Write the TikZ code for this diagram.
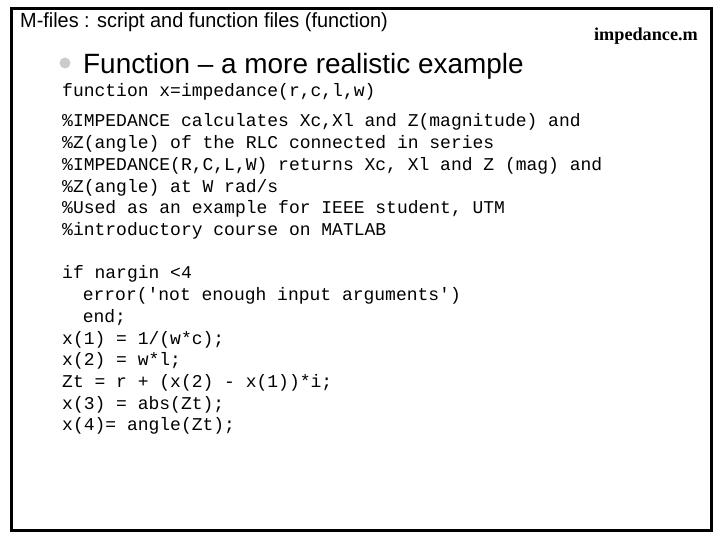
\documentclass[tikz,border=0pt]{standalone}
\usepackage{fontspec}
\setmainfont{Liberation Sans}
\setmonofont{Liberation Mono}
\newfontfamily\serifbold{Liberation Serif}
\usetikzlibrary{positioning}

\begin{document}
\begin{tikzpicture}[
    x=1pt,
    y=-1pt,
    code/.style={
        anchor=base west,
        inner sep=0pt,
        font=\fontsize{18}{18}\ttfamily
    },
    frame/.style={
        draw,
        line width=3pt
    }
]

% Page and frame
\useasboundingbox (0,0) rectangle (720,540);
\draw [frame] (11,9) rectangle (711,530);

% Heading
\node [anchor=base west, inner sep=0pt, xscale=0.97, font=\fontsize{20.5}{20.5}\selectfont] (title) at (20,28) {M-files : script and function files (function)};
\node [anchor=base east, inner sep=0pt, font=\fontsize{18.2}{18.2}\serifbold\bfseries] (file) at (698,41) {impedance.m};
\fill [gray!40] (65,63) circle (5.5) coordinate (dot);
\node [anchor=base west, inner sep=0pt, font=\fontsize{27.9}{27.9}\selectfont] (bullet) at (83,74) {Function -- a more realistic example};

% Code
\node [code] (l0) at (62,97) {function x=impedance(r,c,l,w)};
\node [code] (l1) at (62,127) {\%IMPEDANCE calculates Xc,Xl and Z(magnitude) and};
\node [code] (l2) at (62,148.7) {\%Z(angle) of the RLC connected in series};
\node [code] (l3) at (62,170.4) {\%IMPEDANCE(R,C,L,W) returns Xc, Xl and Z (mag) and};
\node [code] (l4) at (62,192.1) {\%Z(angle) at W rad/s};
\node [code] (l5) at (62,213.8) {\%Used as an example for IEEE student, UTM};
\node [code] (l6) at (62,235.5) {\%introductory course on MATLAB};
\node [code] (l7) at (62,278.9) {if nargin <4};
\node [code] (l8) at (82.6,300.6) {error('not enough input arguments')};
\node [code] (l9) at (82.6,322.3) {end;};
\node [code] (l10) at (62,344) {x(1) = 1/(w*c);};
\node [code] (l11) at (62,365.7) {x(2) = w*l;};
\node [code] (l12) at (62,387.4) {Zt = r + (x(2) - x(1))*i;};
\node [code] (l13) at (62,409.1) {x(3) = abs(Zt);};
\node [code] (l14) at (62,430.8) {x(4)= angle(Zt);};

\end{tikzpicture}
\end{document}
